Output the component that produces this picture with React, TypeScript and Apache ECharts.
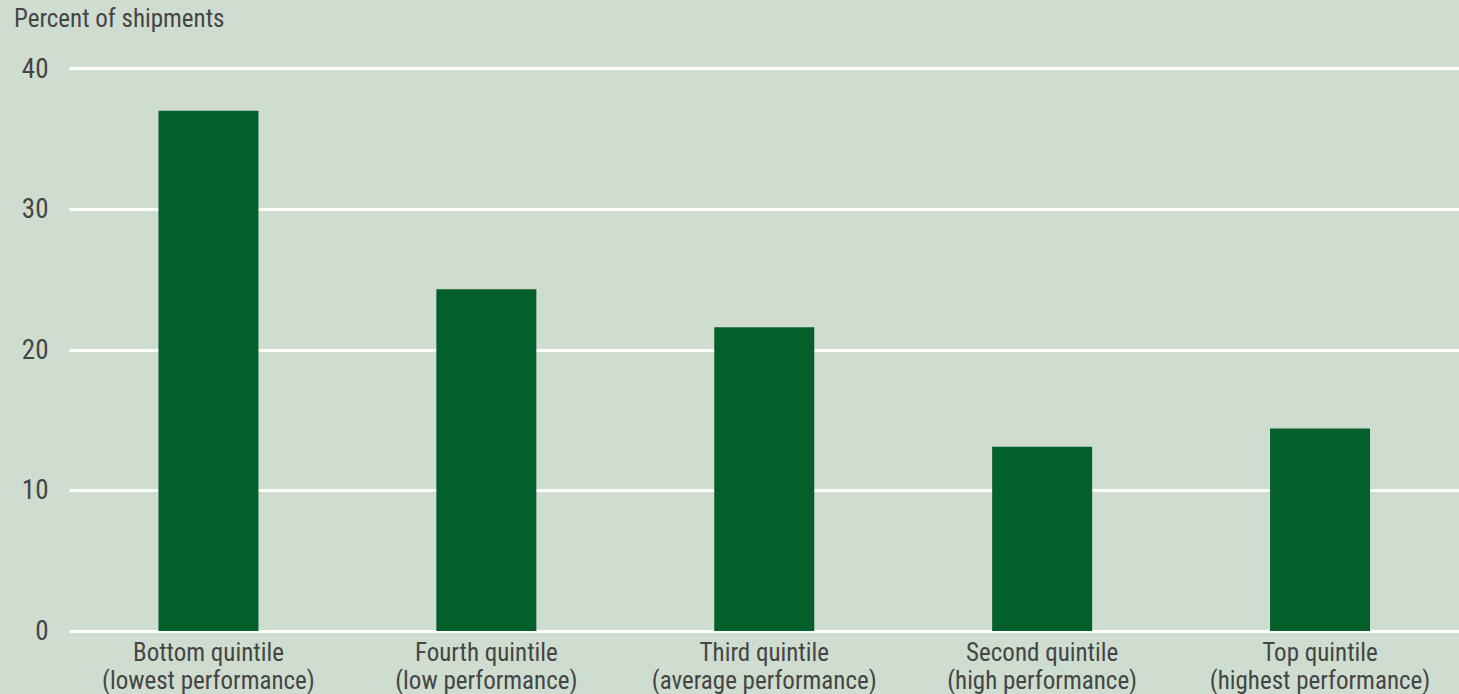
import React, { useEffect, useRef } from "react";
import * as echarts from "echarts";

const categories = [
  "Bottom quintile\n(lowest performance)",
  "Fourth quintile\n(low performance)",
  "Third quintile\n(average performance)",
  "Second quintile\n(high performance)",
  "Top quintile\n(highest performance)",
];
const values = [37.0, 24.3, 21.6, 13.1, 14.4];
const yTicks = [0, 10, 20, 30, 40];
const yTitle = "Percent of shipments";

const FONT = "'Roboto Condensed', 'DejaVu Sans Condensed', sans-serif";
const TEXT = "#454545";

export default function App() {
  const ref = useRef<HTMLDivElement>(null);
  useEffect(() => {
    document.body.style.margin = "0";
    const chart = echarts.init(ref.current!, undefined, { renderer: "svg" });
    chart.setOption({
      animation: false,
      backgroundColor: "#cfddd0",
      textStyle: { fontFamily: FONT },
      graphic: [
        {
          type: "text",
          left: 14,
          top: 6,
          style: { text: yTitle, fill: TEXT, font: `25px ${FONT}` },
        },
      ],
      grid: { left: 69.5, width: 1393, top: 68.5, height: 563, containLabel: false },
      xAxis: {
        type: "category",
        data: categories,
        axisLine: { show: false },
        axisTick: { show: false },
        axisLabel: {
          color: TEXT,
          fontSize: 25,
          fontFamily: FONT,
          lineHeight: 28,
          margin: 7,
          interval: 0,
        },
      },
      yAxis: {
        type: "value",
        min: yTicks[0],
        max: yTicks[yTicks.length - 1],
        interval: 10,
        axisLine: { show: false },
        axisTick: { show: false },
        axisLabel: { color: TEXT, fontSize: 27, fontFamily: FONT, margin: 21 },
        splitLine: { lineStyle: { color: "#ffffff", width: 3 } },
      },
      series: [
        {
          type: "bar",
          data: values,
          barWidth: 100,
          itemStyle: { color: "#03602a" },
          z: 1,
        },
      ],
    });
    return () => chart.dispose();
  }, []);
  return (
    <div
      ref={ref}
      style={{ position: "fixed", left: 0, top: 0, width: 1459, height: 694 }}
    />
  );
}
